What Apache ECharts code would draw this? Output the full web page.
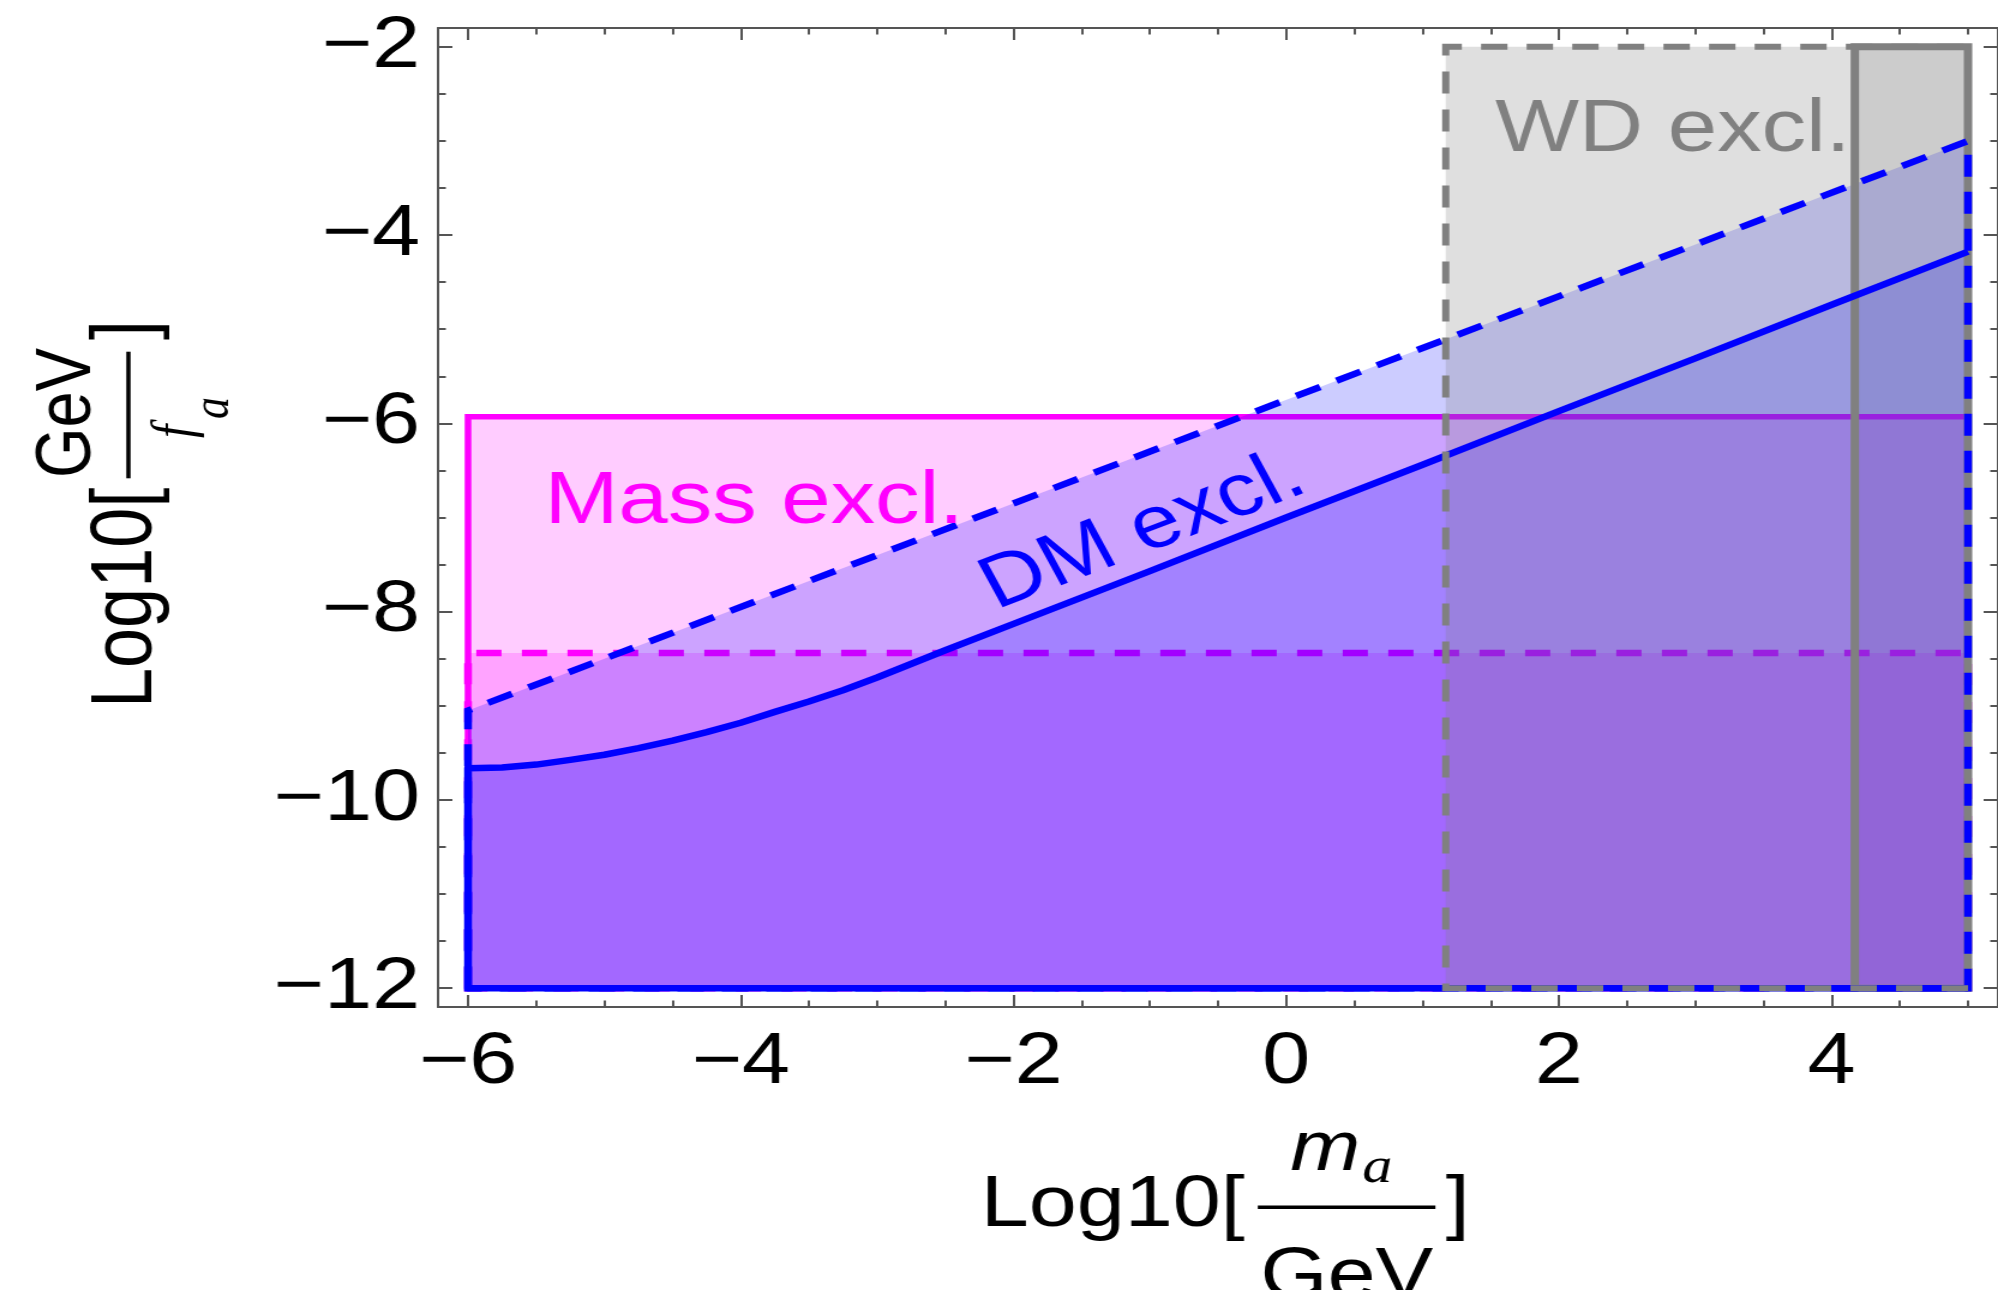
<!DOCTYPE html>
<html>
<head>
<meta charset="utf-8">
<title>Axion exclusion regions</title>
<script src="https://cdn.jsdelivr.net/npm/echarts@6.0.0/dist/echarts.min.js"></script>
<style>
  html, body { margin: 0; padding: 0; background: #ffffff; overflow: hidden; }
  #stage { position: relative; width: 1998px; height: 1290px; overflow: hidden; background: #ffffff; }
  /* the figure is laid out narrower and widened by 1.2 */
  #chart { position: absolute; left: 0; top: 0; width: 1665px; height: 1290px;
           transform: scaleX(1.2); transform-origin: 0 0; }
</style>
</head>
<body>
<div id="stage"><div id="chart"></div></div>
<script>
// ---------- data (all values are log10) ----------
const xMajorTicks = [-6, -4, -2, 0, 2, 4];
const xMinorTicks = [-6, -5.5, -5, -4.5, -4, -3.5, -3, -2.5, -2, -1.5, -1, -0.5, 0, 0.5, 1, 1.5, 2, 2.5, 3, 3.5, 4, 4.5, 5];
const yMajorTicks = [-12, -10, -8, -6, -4, -2];
const yMinorTicks = [-12, -11.5, -11, -10.5, -10, -9.5, -9, -8.5, -8, -7.5, -7, -6.5, -6, -5.5, -5, -4.5, -4, -3.5, -3, -2.5, -2];

const scanRangeX = [-6, 5];        // m_a range of the scan
const floorY = -12;                // lower edge of the scan in GeV/f_a

const massBoundY = -5.93;          // mass exclusion, solid bound
const massBoundDashedY = -8.44;    // mass exclusion, dashed bound

const dmDashedX = [-6, 5];         // DM exclusion, dashed bound
const dmDashedY = [-9.05, -3.0];

const dmSolidX = [-6, -5.75, -5.5, -5.25, -5, -4.75, -4.5, -4.25, -4, -3.75, -3.5, -3.25, -3, -2.5, -2, -1, 0, 1, 2, 3, 4, 5];
const dmSolidY = [-9.665, -9.655, -9.625, -9.575, -9.52, -9.45, -9.37, -9.28, -9.18, -9.065, -8.955, -8.835, -8.70, -8.41, -8.13, -7.57, -7.00, -6.44, -5.87, -5.31, -4.74, -4.175];

const wdRangeX = [1.17, 5];        // white-dwarf exclusion, dashed bound
const wdStrongRangeX = [4.17, 5];  // white-dwarf exclusion, solid bound
const wdTopY = -2;

const regionLabels = ['Mass excl.', 'DM excl.', 'WD excl.'];

// ---------- styling ----------
const FONT = '"Liberation Sans", Arial, Helvetica, sans-serif';
const SERIF = '"Liberation Serif", "Times New Roman", serif';
const MID = 0.28;                  // em offset between glyph baseline and text middle
const MAGENTA = '#ff00ff';
const BLUE = '#0000ff';
const GRAY = '#808080';
const FRAME = '#555555';
const TICK_FONT = 72;
const LABEL_FONT = 74;

const GRID = { left: 365, top: 28, width: 1308.3, height: 979 };
const X_RANGE = [-6.22, 5.22];
const Y_RANGE = [-12.2, -1.8];

const minusFmt = v => (v < 0 ? '\u2212' + Math.abs(v) : String(v));

// ---------- frame axes ----------
function frameAxis(kind, gridIndex, position, ticks, tickLen, line, labels) {
  const range = kind === 'x' ? X_RANGE : Y_RANGE;
  return {
    type: 'value', gridIndex, position,
    min: range[0], max: range[1],
    axisLine: { show: line, onZero: false, lineStyle: { color: FRAME, width: 2 } },
    axisTick: { show: true, inside: true, length: tickLen, customValues: ticks,
                lineStyle: { color: FRAME, width: 2 } },
    axisLabel: labels ? {
      show: true, customValues: ticks, formatter: minusFmt,
      fontFamily: FONT, fontSize: TICK_FONT, color: '#000',
      margin: kind === 'x' ? 20 : 15
    } : { show: false },
    splitLine: { show: false },
    minorTick: { show: false }
  };
}

const xAxes = [
  frameAxis('x', 0, 'bottom', xMajorTicks, 12, true, true),
  frameAxis('x', 0, 'top', xMajorTicks, 12, true, false),
  frameAxis('x', 1, 'bottom', xMinorTicks, 6.5, false, false),
  frameAxis('x', 1, 'top', xMinorTicks, 6.5, false, false)
];
const yAxes = [
  frameAxis('y', 0, 'left', yMajorTicks, 12, true, true),
  frameAxis('y', 0, 'right', yMajorTicks, 12, true, false),
  frameAxis('y', 1, 'left', yMinorTicks, 6.5, false, false),
  frameAxis('y', 1, 'right', yMinorTicks, 6.5, false, false)
];

// ---------- region shapes ----------
function shapeSeries(name, xs, ys, z, style, closed) {
  return {
    type: 'custom', name, z, silent: true, animation: false,
    xAxisIndex: 0, yAxisIndex: 0,
    data: xs.map((x, i) => [x, ys[i]]),
    renderItem(params, api) {
      if (params.dataIndex !== 0) return null;
      const pts = xs.map((x, i) => api.coord([x, ys[i]]));
      return {
        type: closed ? 'polygon' : 'polyline',
        shape: { points: pts },
        style: Object.assign({ fill: 'none' }, style)
      };
    }
  };
}

function rectXs(range) { return [range[0], range[0], range[1], range[1]]; }
function rectYs(bottom, top) { return [bottom, top, top, bottom]; }

const dmDashedPolyX = [dmDashedX[0]].concat(dmDashedX, [dmDashedX[dmDashedX.length - 1]]);
const dmDashedPolyY = [floorY].concat(dmDashedY, [floorY]);
const dmSolidPolyX = [dmSolidX[0]].concat(dmSolidX, [dmSolidX[dmSolidX.length - 1]]);
const dmSolidPolyY = [floorY].concat(dmSolidY, [floorY]);
// solid DM edge: floor, left side, then the curve
const dmSolidEdgeX = [scanRangeX[1], scanRangeX[0]].concat(dmSolidX);
const dmSolidEdgeY = [floorY, floorY].concat(dmSolidY);
// dashed WD edge: floor, left side, top
const wdEdgeX = [wdRangeX[1], wdRangeX[0], wdRangeX[0], wdRangeX[1]];
const wdEdgeY = [floorY, floorY, wdTopY, wdTopY];

const series = [
  shapeSeries('WD strong fill', rectXs(wdStrongRangeX), rectYs(floorY, wdTopY), 2,
    { fill: 'rgba(128,128,128,0.2)' }, true),
  shapeSeries('Mass excl.', rectXs(scanRangeX), rectYs(floorY, massBoundY), 3,
    { fill: 'rgba(255,0,255,0.2)', stroke: MAGENTA, lineWidth: 5.5 }, true),
  shapeSeries('Mass excl. dashed', rectXs(scanRangeX), rectYs(floorY, massBoundDashedY), 3,
    { fill: 'rgba(255,0,255,0.2)', stroke: MAGENTA, lineWidth: 6.5, lineDash: [21, 17] }, true),
  shapeSeries('DM dashed fill', dmDashedPolyX, dmDashedPolyY, 4,
    { fill: 'rgba(0,0,255,0.2)' }, true),
  shapeSeries('DM solid fill', dmSolidPolyX, dmSolidPolyY, 4,
    { fill: 'rgba(0,0,255,0.2)' }, true),
  shapeSeries('WD fill', rectXs(wdRangeX), rectYs(floorY, wdTopY), 5,
    { fill: 'rgba(128,128,128,0.25)' }, true),
  shapeSeries('WD strong edge', rectXs(wdStrongRangeX), rectYs(floorY, wdTopY), 5,
    { stroke: GRAY, lineWidth: 7 }, true),
  shapeSeries('DM dashed edge', dmDashedPolyX, dmDashedPolyY, 6,
    { stroke: BLUE, lineWidth: 6.5, lineDash: [22, 15] }, true),
  shapeSeries('DM solid edge', dmSolidEdgeX, dmSolidEdgeY, 6,
    { stroke: BLUE, lineWidth: 6.5, lineJoin: 'round' }, false),
  shapeSeries('WD edge', wdEdgeX, wdEdgeY, 7,
    { stroke: GRAY, lineWidth: 6, lineDash: [22, 16] }, false)
];

// region captions, anchored in data space
const labelPlacement = [
  { at: [-5.44, -7.058], align: 'left', onBaseline: true, color: MAGENTA },
  { at: [-1.05, -7.15], align: 'center', onBaseline: false, color: BLUE, alongDashed: true },
  { at: [1.533, -3.113], align: 'left', onBaseline: true, color: GRAY }
];

series.push({
  type: 'custom', name: 'captions', z: 8, silent: true, animation: false,
  xAxisIndex: 0, yAxisIndex: 0,
  data: labelPlacement.map(p => p.at),
  renderItem(params, api) {
    const i = params.dataIndex;
    const p = labelPlacement[i];
    const c = api.coord([api.value(0), api.value(1)]);
    let rot = 0;
    if (p.alongDashed) {
      const a = api.coord([dmDashedX[0], dmDashedY[0]]);
      const b = api.coord([dmDashedX[1], dmDashedY[1]]);
      rot = Math.atan2(a[1] - b[1], b[0] - a[0]);
    }
    return {
      type: 'text', x: c[0], y: p.onBaseline ? c[1] - MID * LABEL_FONT : c[1], rotation: rot,
      style: {
        text: regionLabels[i], fill: p.color,
        font: LABEL_FONT + 'px ' + FONT,
        align: p.align, verticalAlign: 'middle',
        textAlign: p.align, textVerticalAlign: 'middle'
      }
    };
  }
});

// ---------- axis titles with stacked fractions ----------
function word(text, x, base, size, family, italic) {
  return {
    type: 'text', x, y: base - MID * size, silent: true,
    style: {
      text, fill: '#000',
      font: (italic ? 'italic ' : '') + size + 'px ' + family,
      align: 'left', verticalAlign: 'middle',
      textAlign: 'left', textVerticalAlign: 'middle'
    }
  };
}
function bar(x1, x2, y) {
  return { type: 'line', silent: true, shape: { x1, y1: y, x2, y2: y },
           style: { stroke: '#000', lineWidth: 3.5 } };
}

const plotCenterX = GRID.left + GRID.width / 2;
const plotCenterY = GRID.top + GRID.height / 2;

// Log10[ m_a / GeV ]
const xTitle = {
  type: 'group', x: plotCenterX - 202, y: 1226.7,
  children: [
    word('Log10[', 0, 0, 72, FONT, false),
    bar(231, 379, -19.4),
    word('m', 258, -57, 70, FONT, true),
    word('a', 318, -44, 50, SERIF, true),
    word('GeV', 233, 71.7, 72, FONT, false),
    word(']', 387.5, 0, 72, FONT, false)
  ]
};

// Log10[ GeV / f_a ], reading upwards
const yTitle = {
  type: 'group', x: 126.4, y: plotCenterY + 190.5, rotation: Math.PI / 2,
  children: [
    word('Log10[', 0, 0, 72, FONT, false),
    bar(229.7, 356.3, -19.4),
    word('GeV', 230, -51.4, 65, FONT, false),
    word('f', 270, 34, 48, SERIF, true),
    word('a', 289, 64, 44, SERIF, true),
    word(']', 368, 0, 72, FONT, false)
  ]
};

const chart = echarts.init(document.getElementById('chart'), null, { renderer: 'canvas' });
chart.setOption({
  backgroundColor: '#ffffff',
  animation: false,
  grid: [
    Object.assign({ containLabel: false }, GRID),
    Object.assign({ containLabel: false }, GRID)
  ],
  xAxis: xAxes,
  yAxis: yAxes,
  series,
  graphic: { elements: [xTitle, yTitle] }
});
</script>
</body>
</html>
